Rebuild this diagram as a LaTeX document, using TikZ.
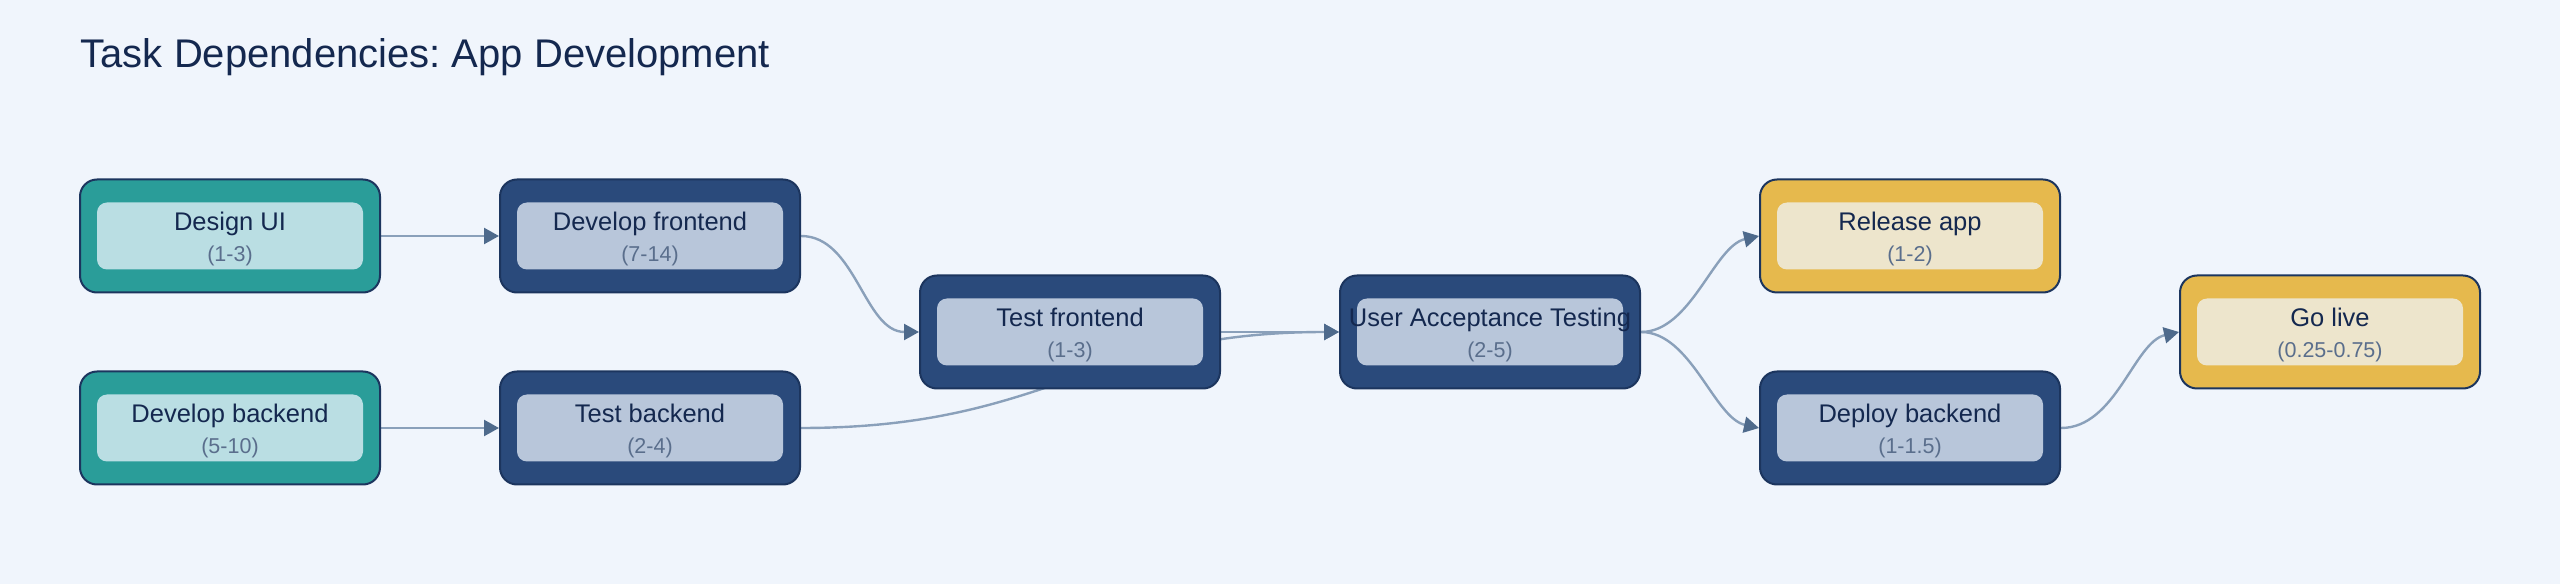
\documentclass[tikz,border=0pt]{standalone}
\usepackage{fontspec}
\setmainfont{Liberation Sans}
\usepackage{xcolor}
\definecolor{pagebg}{RGB}{240,245,252}
\definecolor{tealdark}{RGB}{42,157,153}
\definecolor{teallight}{RGB}{186,222,227}
\definecolor{navydark}{RGB}{42,74,123}
\definecolor{navylight}{RGB}{184,198,218}
\definecolor{golddark}{RGB}{230,185,77}
\definecolor{goldlight}{RGB}{237,229,204}
\definecolor{boxborder}{RGB}{28,53,94}
\definecolor{textdark}{RGB}{20,40,79}
\definecolor{rangetext}{RGB}{90,110,140}
\definecolor{edgeline}{RGB}{138,160,186}
\definecolor{edgetip}{RGB}{78,106,140}
\usetikzlibrary{arrows.meta,positioning,calc}
\pgfdeclarelayer{back}
\pgfsetlayers{back,main}
\frenchspacing

\begin{document}
\begin{tikzpicture}[x=1pt, y=1pt,
  taskbox/.style 2 args={draw=boxborder, line width=2pt, fill=#1, rounded corners=17pt,
    minimum width=300pt, minimum height=113pt, inner sep=0pt,
    path picture={\fill[#2, rounded corners=10pt]
      ([xshift=17pt,yshift=-23pt]path picture bounding box.north west) rectangle
      ([xshift=-17pt,yshift=23pt]path picture bounding box.south east);}},
  tname/.style={anchor=base, inner sep=0pt, text=textdark, font=\fontsize{25.5}{30}\selectfont},
  trange/.style={anchor=base, inner sep=0pt, text=rangetext, font=\fontsize{21.5}{26}\selectfont},
  dep/.style={draw=edgeline, line width=2.4pt, -{Triangle[length=15pt, width=16pt, color=edgetip]}}]
  \useasboundingbox (0,0) rectangle (2560,584);
  \begin{pgfonlayer}{back}
    \fill[pagebg] (0,0) rectangle (2560,584);
  \end{pgfonlayer}
  % Title
  \node[anchor=base west, inner sep=0pt, text=textdark, font=\fontsize{40}{46}\selectfont] (title) at (80.5,516) {Task Dependencies: App Development};
  % Tasks
  \node[taskbox={tealdark}{teallight}] (design) at (230,348) {};
  \node[tname] (design-n) at ([yshift=5pt]design.center) {Design UI};
  \node[trange] (design-r) at ([yshift=-25.5pt]design.center) {(1-3)};
  \node[taskbox={tealdark}{teallight}] (devback) at (230,156) {};
  \node[tname] (devback-n) at ([yshift=5pt]devback.center) {Develop backend};
  \node[trange] (devback-r) at ([yshift=-25.5pt]devback.center) {(5-10)};
  \node[taskbox={navydark}{navylight}] (devfront) at (650,348) {};
  \node[tname] (devfront-n) at ([yshift=5pt]devfront.center) {Develop frontend};
  \node[trange] (devfront-r) at ([yshift=-25.5pt]devfront.center) {(7-14)};
  \node[taskbox={navydark}{navylight}] (testback) at (650,156) {};
  \node[tname] (testback-n) at ([yshift=5pt]testback.center) {Test backend};
  \node[trange] (testback-r) at ([yshift=-25.5pt]testback.center) {(2-4)};
  \node[taskbox={navydark}{navylight}] (testfront) at (1070,252) {};
  \node[tname] (testfront-n) at ([yshift=5pt]testfront.center) {Test frontend};
  \node[trange] (testfront-r) at ([yshift=-25.5pt]testfront.center) {(1-3)};
  \node[taskbox={navydark}{navylight}] (uat) at (1490,252) {};
  \node[tname] (uat-n) at ([yshift=5pt]uat.center) {User Acceptance Testing};
  \node[trange] (uat-r) at ([yshift=-25.5pt]uat.center) {(2-5)};
  \node[taskbox={golddark}{goldlight}] (release) at (1910,348) {};
  \node[tname] (release-n) at ([yshift=5pt]release.center) {Release app};
  \node[trange] (release-r) at ([yshift=-25.5pt]release.center) {(1-2)};
  \node[taskbox={navydark}{navylight}] (deploy) at (1910,156) {};
  \node[tname] (deploy-n) at ([yshift=5pt]deploy.center) {Deploy backend};
  \node[trange] (deploy-r) at ([yshift=-25.5pt]deploy.center) {(1-1.5)};
  \node[taskbox={golddark}{goldlight}] (golive) at (2330,252) {};
  \node[tname] (golive-n) at ([yshift=5pt]golive.center) {Go live};
  \node[trange] (golive-r) at ([yshift=-25.5pt]golive.center) {(0.25-0.75)};
  % Dependencies
  \begin{pgfonlayer}{back}
    \draw[dep] (design.east) -- (devfront.west);
    \draw[dep] (devback.east) -- (testback.west);
    \draw[dep] (devfront.east) .. controls +(55,0) and +(-55,0) .. (testfront.west);
    \draw[dep] (testback.east) .. controls +(250,0) and +(-250,0) .. (uat.west);
    \draw[dep] (testfront.east) -- (uat.west);
    \draw[dep] (uat.east) .. controls +(50,0) and +(-45,-10) .. (release.west);
    \draw[dep] (uat.east) .. controls +(50,0) and +(-45,10) .. (deploy.west);
    \draw[dep] (deploy.east) .. controls +(55,0) and +(-45,-10) .. (golive.west);
  \end{pgfonlayer}
\end{tikzpicture}
\end{document}
